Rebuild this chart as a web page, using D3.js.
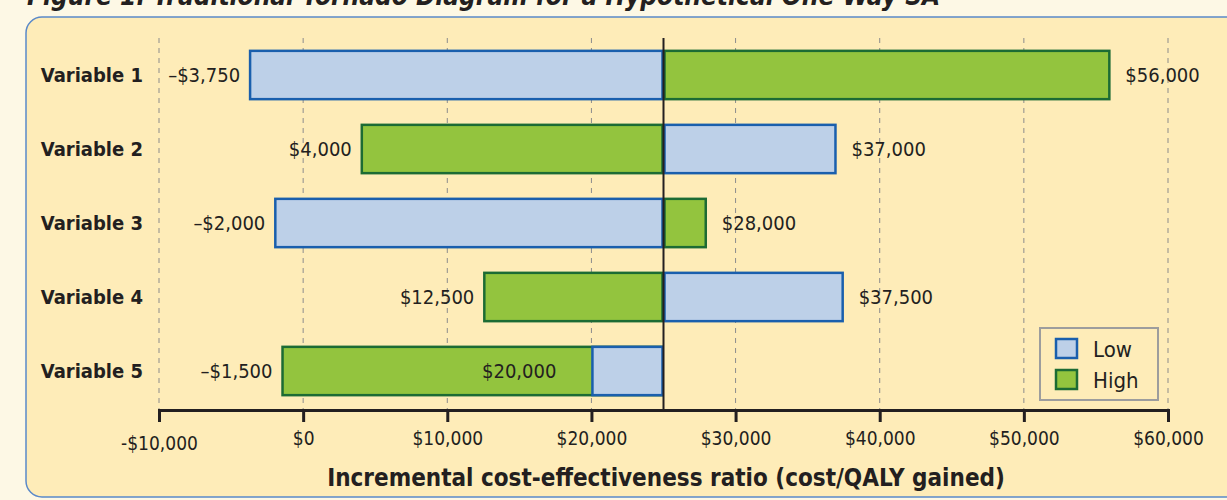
<!DOCTYPE html>
<html>
<head>
<meta charset="utf-8">
<script src="https://cdn.jsdelivr.net/npm/d3@7"></script>
<style>
  body { margin: 0; background: #fdf8e5; }
  svg text { font-family: "Liberation Sans Narrow", "DejaVu Sans Condensed", "Arial Narrow", sans-serif; fill: #231f20; }
  .cat { font-weight: bold; font-size: 20px; }
  .val { font-size: 20px; }
  .tick-lab { font-size: 19px; }
  .axis-title { font-weight: bold; font-size: 24px; }
  .title { font-weight: bold; font-style: italic; font-size: 26px; }
</style>
</head>
<body>
<div id="chart"></div>
<script>
var variables = ["Variable 1", "Variable 2", "Variable 3", "Variable 4", "Variable 5"];
var lowValues = [-3750, 37000, -2000, 37500, 20000];
var highValues = [56000, 4000, 28000, 12500, -1500];
var lowLabels = ["\u2013$3,750", "$37,000", "\u2013$2,000", "$37,500", "$20,000"];
var highLabels = ["$56,000", "$4,000", "$28,000", "$12,500", "\u2013$1,500"];
var baseValue = 25000;
var tickValues = [-10000, 0, 10000, 20000, 30000, 40000, 50000, 60000];
var tickLabels = ["-$10,000", "$0", "$10,000", "$20,000", "$30,000", "$40,000", "$50,000", "$60,000"];

var W = 1227, H = 500;
var lowFill = "#bdd0e8", lowStroke = "#1a5fad";
var highFill = "#93c43e", highStroke = "#1c6b34";

var svg = d3.select("#chart").append("svg")
    .attr("width", W)
    .attr("height", H);

svg.append("rect").attr("width", W).attr("height", H).attr("fill", "#fdf8e5");

// title (cut off at top, as in the original)
svg.append("text")
    .attr("class", "title")
    .attr("x", 27)
    .attr("y", 5)
    .text("Figure 1. Traditional Tornado Diagram for a Hypothetical One-Way SA");

// panel
svg.append("rect")
    .attr("x", 26).attr("y", 17)
    .attr("width", 1240).attr("height", 480)
    .attr("rx", 16)
    .attr("fill", "#feecb8")
    .attr("stroke", "#5a89c9")
    .attr("stroke-width", 1.5);

var x = d3.scaleLinear().domain([-10000, 60000]).range([159, 1168]);
var y = d3.scaleBand().domain(variables).range([38, 408]).paddingInner(0.32).paddingOuter(0.16);

// grid
svg.append("g").selectAll("line")
  .data(tickValues)
  .enter().append("line")
    .attr("x1", function(d) { return x(d); })
    .attr("x2", function(d) { return x(d); })
    .attr("y1", 38)
    .attr("y2", 410)
    .attr("stroke", "#8c8c8c")
    .attr("stroke-width", 1)
    .attr("stroke-dasharray", "5,5");

// bars: longer one first so the shorter sits on top
var rows = variables.map(function(v, i) {
  var bars = [
    {v: v, val: lowValues[i], fill: lowFill, stroke: lowStroke},
    {v: v, val: highValues[i], fill: highFill, stroke: highStroke}
  ];
  bars.sort(function(a, b) { return Math.abs(b.val - baseValue) - Math.abs(a.val - baseValue); });
  return bars;
});
var allBars = [].concat.apply([], rows);

svg.append("g").selectAll("rect")
  .data(allBars)
  .enter().append("rect")
    .attr("x", function(d) { return x(Math.min(d.val, baseValue)) + 1; })
    .attr("y", function(d) { return y(d.v) + 1; })
    .attr("width", function(d) { return Math.abs(x(d.val) - x(baseValue)) - 2; })
    .attr("height", y.bandwidth() - 2)
    .attr("fill", function(d) { return d.fill; })
    .attr("stroke", function(d) { return d.stroke; })
    .attr("stroke-width", 2.5);

// center line
svg.append("line")
    .attr("x1", x(baseValue)).attr("x2", x(baseValue))
    .attr("y1", 38).attr("y2", 410)
    .attr("stroke", "#231f20")
    .attr("stroke-width", 2);

// value labels
var labels = [];
variables.forEach(function(v, i) {
  labels.push({v: v, val: lowValues[i], text: lowLabels[i], inside: v === "Variable 5"});
  labels.push({v: v, val: highValues[i], text: highLabels[i], inside: false});
});
svg.append("g").selectAll("text")
  .data(labels)
  .enter().append("text")
    .attr("class", "val")
    .attr("x", function(d) {
      if (d.inside) return x(d.val) - 35;
      return d.val < baseValue ? x(d.val) - 9 : x(d.val) + 15;
    })
    .attr("y", function(d) { return y(d.v) + y.bandwidth() / 2 + 7; })
    .attr("text-anchor", function(d) { return d.val < baseValue ? "end" : "start"; })
    .text(function(d) { return d.text; });

// category labels
svg.append("g").selectAll("text")
  .data(variables)
  .enter().append("text")
    .attr("class", "cat")
    .attr("x", 143)
    .attr("y", function(d) { return y(d) + y.bandwidth() / 2 + 7; })
    .attr("text-anchor", "end")
    .text(function(d) { return d; });

// x axis
var xAxis = d3.axisBottom(x)
    .tickValues(tickValues)
    .tickSize(12)
    .tickFormat(function(d, i) { return tickLabels[i]; });

var ax = svg.append("g")
    .attr("transform", "translate(0,410)")
    .call(xAxis);
ax.attr("font-family", null).attr("font-size", null);
ax.select(".domain").attr("stroke", "#231f20").attr("stroke-width", 3);
ax.selectAll(".tick line").attr("stroke", "#231f20").attr("stroke-width", 3);
ax.selectAll(".tick text")
    .attr("class", "tick-lab")
    .attr("fill", "#231f20")
    .attr("y", function(d) { return d === -10000 ? 27 : 22; });

svg.append("text")
    .attr("class", "axis-title")
    .attr("x", 666)
    .attr("y", 486)
    .attr("text-anchor", "middle")
    .text("Incremental cost-effectiveness ratio (cost/QALY gained)");

// legend
var legend = svg.append("g");
legend.append("rect")
    .attr("x", 1040).attr("y", 328)
    .attr("width", 118).attr("height", 72)
    .attr("fill", "#feecb8")
    .attr("stroke", "#9d9d9d")
    .attr("stroke-width", 2);
var legendItems = [{name: "Low", fill: lowFill, stroke: lowStroke}, {name: "High", fill: highFill, stroke: highStroke}];
legend.selectAll(".sw")
  .data(legendItems)
  .enter().append("rect")
    .attr("x", 1056)
    .attr("y", function(d, i) { return 339 + i * 31; })
    .attr("width", 21).attr("height", 19)
    .attr("fill", function(d) { return d.fill; })
    .attr("stroke", function(d) { return d.stroke; })
    .attr("stroke-width", 2.5);
legend.selectAll(".lt")
  .data(legendItems)
  .enter().append("text")
    .attr("class", "val")
    .attr("x", 1093)
    .attr("y", function(d, i) { return 357 + i * 31; })
    .style("font-size", "22px")
    .text(function(d) { return d.name; });
</script>
</body>
</html>
